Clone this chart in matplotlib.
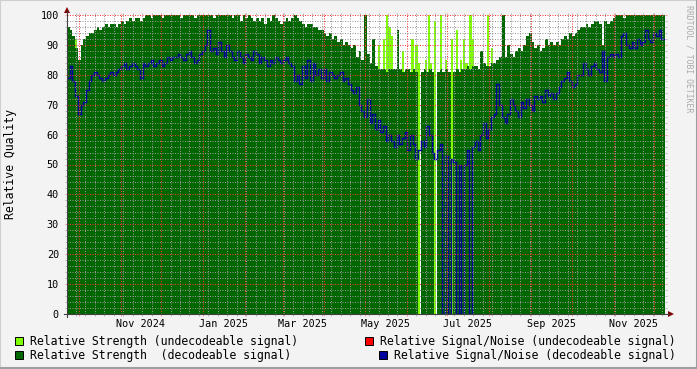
import numpy as np
import matplotlib
matplotlib.use("Agg")
import matplotlib.pyplot as plt
import matplotlib.dates as mdates
from matplotlib.ticker import MultipleLocator, NullFormatter
from matplotlib.patches import Rectangle, Polygon
from matplotlib.lines import Line2D
from matplotlib.transforms import blended_transform_factory
from datetime import datetime, timedelta

# samples every 2 days, starting at the left edge of the graph
START = datetime(2024, 9, 22, 8)
STEP_DAYS = 2
SPAN_DAYS = 442.8

strength_dec = [
    96, 95, 93, 89, 85, 90, 92, 93, 94, 94,
    95, 96, 95, 96, 97, 96, 97, 97, 96, 97,
    98, 97, 98, 99, 98, 99, 99, 98, 99, 100,
    100, 99, 100, 100, 100, 99, 100, 100, 100, 100,
    100, 100, 99, 100, 100, 100, 100, 99, 100, 100,
    100, 100, 100, 100, 99, 100, 100, 100, 100, 100,
    100, 99, 100, 100, 98, 100, 99, 100, 99, 98,
    99, 98, 99, 97, 99, 98, 100, 99, 98, 97,
    98, 99, 98, 99, 100, 99, 98, 97, 96, 97,
    97, 96, 96, 95, 95, 94, 93, 94, 92, 93,
    91, 92, 90, 91, 90, 89, 90, 86, 88, 85,
    100, 87, 84, 92, 83, 82, 82, 82, 81, 82,
    82, 82, 95, 82, 81, 82, 82, 81, 82, 81,
    0, 81, 82, 81, 82, 81, 0, 81, 82, 81,
    82, 81, 0, 81, 82, 81, 82, 82, 83, 82,
    83, 83, 82, 88, 84, 83, 83, 84, 84, 85,
    86, 100, 86, 90, 87, 86, 88, 89, 88, 90,
    93, 94, 91, 89, 90, 88, 89, 92, 90, 91,
    90, 91, 90, 92, 93, 92, 94, 93, 94, 95,
    96, 96, 97, 96, 97, 98, 98, 97, 90, 98,
    97, 98, 99, 100, 100, 100, 99, 100, 100, 100,
    100, 100, 100, 100, 100, 100, 100, 100, 100, 100, 100, 100,
]

snr_dec = [
    79, 83, 78, 73, 67, 70, 71, 75, 78, 80,
    81, 80, 79, 78, 79, 80, 81, 80, 81, 82,
    83, 84, 82, 83, 84, 83, 82, 79, 84, 83,
    84, 85, 83, 84, 85, 83, 84, 86, 85, 86,
    86, 87, 86, 85, 87, 88, 86, 84, 85, 87,
    88, 90, 95, 88, 89, 87, 91, 88, 86, 90,
    88, 86, 85, 88, 86, 84, 87, 86, 85, 88,
    87, 84, 86, 85, 83, 85, 84, 86, 85, 84,
    85, 86, 84, 83, 78, 80, 77, 83, 79, 85,
    78, 84, 80, 82, 79, 82, 78, 81, 80, 79,
    80, 81, 78, 79, 77, 75, 74, 76, 70, 68,
    66, 72, 64, 67, 62, 65, 61, 63, 58, 60,
    58, 56, 60, 57, 59, 61, 55, 60, 57, 52,
    55, 58, 56, 63, 60, 54, 52, 55, 57, 0,
    53, 0, 52, 51, 0, 50, 0, 50, 55, 0,
    56, 58, 55, 60, 64, 59, 62, 66, 67, 77,
    70, 66, 64, 67, 72, 70, 68, 66, 71, 69,
    72, 70, 68, 73, 72, 73, 71, 75, 73, 74,
    72, 74, 76, 78, 79, 81, 78, 76, 77, 80,
    80, 84, 82, 80, 83, 84, 82, 81, 88, 78,
    86, 87, 86, 87, 86, 93, 94, 90, 89, 91,
    89, 92, 90, 91, 95, 92, 91, 94, 93, 95, 92, 92,
]

# undecodeable strength: day offset from START and value
weak_days = [6, 230, 234, 236, 238, 240, 248, 255, 258, 260, 265, 267, 269,
             272, 276, 280, 284, 288, 291, 293, 295, 298, 300, 311, 314]
weak_vals = [92, 90, 92, 100, 96, 93, 88, 92, 90, 84, 85, 100, 84,
             98, 100, 85, 92, 95, 85, 92, 84, 100, 92, 100, 89]

month_labels = ["Nov 2024", "Jan 2025", "Mar 2025", "May 2025",
                "Jul 2025", "Sep 2025", "Nov 2025"]

legend_items = [
    ("Relative Strength (undecodeable signal)", "#80ff00"),
    ("Relative Signal/Noise (undecodeable signal)", "#ff0000"),
    ("Relative Strength  (decodeable signal)", "#006600"),
    ("Relative Signal/Noise (decodeable signal)", "#00009c"),
]

MONO = "DejaVu Sans Mono"
W, H = 697, 369


def fx(x):
    return x / W


def fy(y):
    return 1 - y / H


fig = plt.figure(figsize=(W / 100, H / 100), dpi=100, facecolor="#f3f3f3")
ax = fig.add_axes([fx(67), fy(314), (665 - 67) / W, (314 - 15) / H])
ax.set_facecolor("white")
for s in ax.spines.values():
    s.set_visible(False)

t0 = mdates.date2num(START)
edges = t0 + STEP_DAYS * np.arange(len(strength_dec) + 1)

ax.bar(t0 + np.array(weak_days), weak_vals, width=STEP_DAYS * 0.8,
       align="edge", color="#80ff00", linewidth=0, zorder=1)
ax.stairs(strength_dec, edges, fill=True, facecolor="#006600",
          edgecolor="none", baseline=0, zorder=1.5)
ax.stairs(snr_dec, edges[:len(snr_dec) + 1], color="#00009c", lw=1.05,
          baseline=None, zorder=2)

ax.set_xlim(t0, t0 + SPAN_DAYS)
ax.set_ylim(0, 100)

ax.xaxis.set_major_locator(mdates.MonthLocator())
ax.xaxis.set_minor_locator(mdates.WeekdayLocator(byweekday=mdates.SU))
ax.xaxis.set_major_formatter(NullFormatter())
ax.yaxis.set_major_locator(MultipleLocator(10))
ax.yaxis.set_minor_locator(MultipleLocator(2))

ax.set_axisbelow(False)
ax.grid(which="minor", color=(0.6, 0.6, 0.6, 0.2), lw=0.72,
        linestyle=(0, (1, 1.5)))
ax.grid(which="major", color=(1.0, 0.2, 0.2, 0.22), lw=0.72,
        linestyle=(0, (1, 1.5)))
ax.tick_params(which="both", direction="out", length=1.6, width=0.72,
               top=True, right=True)
ax.tick_params(which="minor", color=(0.5, 0.5, 0.5, 0.5))
ax.tick_params(which="major", color=(1.0, 0.3, 0.3, 0.5))
ax.tick_params(axis="y", which="major", labelsize=7.26, pad=4.2,
               labelcolor="#000000")
for lab in ax.get_yticklabels():
    lab.set_family(MONO)

# month labels centred in their month
trans = blended_transform_factory(ax.transData, fig.transFigure)
for name in month_labels:
    d = datetime.strptime(name, "%b %Y") + timedelta(days=15)
    ax.text(mdates.date2num(d), fy(324), name, transform=trans, ha="center",
            va="center", fontsize=7.26, family=MONO, color="#000000")

# axis lines with arrows
axis_col = "#404040"
arrow_col = "#800000"
fig.add_artist(Line2D([fx(67), fx(67)], [fy(317), fy(11)], color=axis_col,
                      lw=0.8))
fig.add_artist(Line2D([fx(64), fx(669)], [fy(314), fy(314)], color=axis_col,
                      lw=0.8))
fig.add_artist(Polygon([(fx(64), fy(13)), (fx(70), fy(13)), (fx(67), fy(7))],
                       closed=True, color=arrow_col, lw=0))
fig.add_artist(Polygon([(fx(668), fy(311)), (fx(668), fy(317)),
                        (fx(674), fy(314))], closed=True, color=arrow_col,
                       lw=0))

fig.text(fx(11), fy(164.5), "Relative Quality", rotation=90, ha="center",
         va="center", fontsize=8.3, family=MONO, color="#000000")
fig.text(fx(689), fy(5), "RRDTOOL / TOBI OETIKER", rotation=270,
         ha="center", va="top", fontsize=5.9, family=MONO, color="#aaaaaa")

# legend
legend_pos = [(15, 341), (365, 341), (15, 355), (379, 355)]
for (label, col), (lx, ly) in zip(legend_items, legend_pos):
    fig.add_artist(Rectangle((fx(lx), fy(ly + 4)), 8 / W, 8 / H,
                             facecolor=col, edgecolor="black", lw=0.7))
    fig.text(fx(lx + 15), fy(ly), label, ha="left", va="center",
             fontsize=8.3, family=MONO, color="#000000")

# 3d border
fig.add_artist(Line2D([0, 0, 1], [0, 1, 1], color="#cfcfcf", lw=1.5))
fig.add_artist(Line2D([0, 1, 1], [fy(368), fy(368), 1], color="#9e9e9e",
                      lw=1.5))

fig.savefig("out.png", dpi=100, facecolor=fig.get_facecolor())
